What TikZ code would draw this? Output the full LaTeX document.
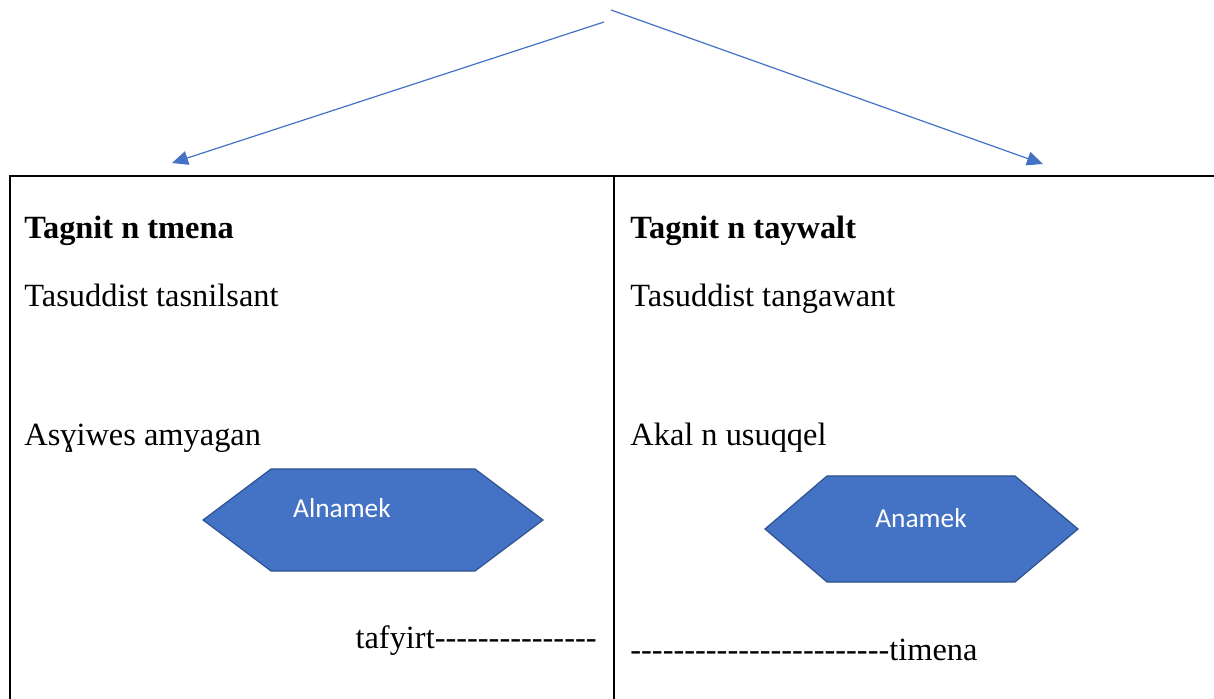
\documentclass[tikz,border=0pt]{standalone}
\usepackage{fontspec}
\setmainfont{Liberation Serif}
\newfontfamily\hexfont{Carlito}
\usetikzlibrary{arrows.meta}
\definecolor{wordblue}{HTML}{4472C4}
\definecolor{wordedge}{HTML}{2F528F}
\newcommand{\dashrow}[1]{\foreach \i in {1,...,#1}{-}}
\begin{document}
\begin{tikzpicture}[x=0.5pt,y=-0.5pt,
    txt/.style={anchor=base west,inner sep=0pt,font=\fontsize{16.2}{19}\selectfont},
    head/.style={txt,font=\fontsize{16.2}{19}\selectfont\bfseries},
    hexbox/.style={fill=wordblue,draw=wordedge,line width=0.6pt},
    hexlabel/.style={inner sep=0pt,text=white,font=\hexfont\fontsize{13.7}{15}\selectfont},
    link/.style={draw=wordblue,line width=0.6pt,-{Triangle[length=8pt,width=7pt]}}]
  \useasboundingbox (0,0) rectangle (1214,699);
  \coordinate(la)at(604,22);\coordinate(ra)at(611,10);
  \coordinate(lt)at(172,163);\coordinate(rt)at(1043,164);
  \draw[link] (la)--(lt);
  \draw[link] (ra)--(rt);
  % table
  \draw[line width=1pt] (9,176)--(1214,176) (10,176)--(10,699) (614,176)--(614,699);
  % left column
  \node[head] (tmena) at (24,239) {Tagnit n tmena};
  \node[txt] (tasnilsant) at (24,307) {Tasuddist tasnilsant};
  \node[txt] (asyiwes) at (24,446) {Asɣiwes amyagan};
  \filldraw[hexbox] (203,520)--(271,469)--(475,469)--(543,520)--(475,571)--(271,571)--cycle;
  \node[hexlabel] (alnamek) at (342,508) {Alnamek};
  \node[txt,anchor=base east] (tafyirt) at (597,648) {tafyirt\dashrow{15}};
  % right column
  \node[head] (taywalt) at (630,239) {Tagnit n taywalt};
  \node[txt] (tangawant) at (630,307) {Tasuddist tangawant};
  \node[txt] (akal) at (630,446) {Akal n usuqqel};
  \filldraw[hexbox] (765,529)--(827,476)--(1015,476)--(1078,529)--(1015,582)--(827,582)--cycle;
  \node[hexlabel] (anamek) at (921,518) {Anamek};
  \node[txt] (timena) at (630,660) {\dashrow{24}timena};
\end{tikzpicture}
\end{document}
